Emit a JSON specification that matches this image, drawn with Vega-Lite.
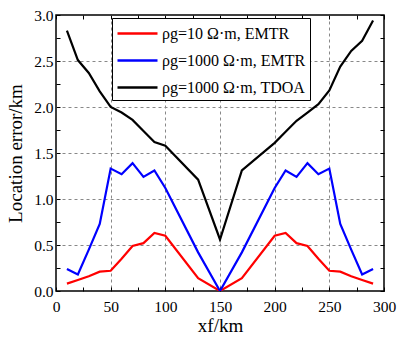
{
  "$schema": "https://vega.github.io/schema/vega-lite/v6.json",
  "autosize": {"type": "none"},
  "padding": {"left": 56, "top": 15, "right": 16, "bottom": 49},
  "width": 328,
  "height": 276,
  "config": {
    "view": {"stroke": "black", "strokeWidth": 1.5},
    "font": "Times New Roman",
    "legend": {"labelFont": "Times New Roman", "labelFontSize": 16, "labelColor": "black"},
    "axis": {
      "domain": false,
      "labelFont": "Times New Roman",
      "labelFontSize": 15.5,
      "labelColor": "black",
      "titleFont": "Times New Roman",
      "titleFontSize": 19,
      "titleFontWeight": "normal",
      "titleColor": "black",
      "tickColor": "black",
      "tickWidth": 1,
      "gridDash": [3, 3],
      "gridWidth": 1,
      "labelOverlap": false,
      "labelFlush": false
    }
  },
  "data": {
    "values": [
      {"x": 10, "y": 0.08, "s": "ρg=10 Ω·m, EMTR"},
      {"x": 20, "y": 0.12, "s": "ρg=10 Ω·m, EMTR"},
      {"x": 30, "y": 0.16, "s": "ρg=10 Ω·m, EMTR"},
      {"x": 40, "y": 0.21, "s": "ρg=10 Ω·m, EMTR"},
      {"x": 50, "y": 0.22, "s": "ρg=10 Ω·m, EMTR"},
      {"x": 60, "y": 0.35, "s": "ρg=10 Ω·m, EMTR"},
      {"x": 70, "y": 0.49, "s": "ρg=10 Ω·m, EMTR"},
      {"x": 80, "y": 0.52, "s": "ρg=10 Ω·m, EMTR"},
      {"x": 90, "y": 0.63, "s": "ρg=10 Ω·m, EMTR"},
      {"x": 100, "y": 0.6, "s": "ρg=10 Ω·m, EMTR"},
      {"x": 130, "y": 0.14, "s": "ρg=10 Ω·m, EMTR"},
      {"x": 150, "y": 0.0, "s": "ρg=10 Ω·m, EMTR"},
      {"x": 170, "y": 0.14, "s": "ρg=10 Ω·m, EMTR"},
      {"x": 200, "y": 0.6, "s": "ρg=10 Ω·m, EMTR"},
      {"x": 210, "y": 0.63, "s": "ρg=10 Ω·m, EMTR"},
      {"x": 220, "y": 0.52, "s": "ρg=10 Ω·m, EMTR"},
      {"x": 230, "y": 0.49, "s": "ρg=10 Ω·m, EMTR"},
      {"x": 240, "y": 0.35, "s": "ρg=10 Ω·m, EMTR"},
      {"x": 250, "y": 0.22, "s": "ρg=10 Ω·m, EMTR"},
      {"x": 260, "y": 0.21, "s": "ρg=10 Ω·m, EMTR"},
      {"x": 270, "y": 0.16, "s": "ρg=10 Ω·m, EMTR"},
      {"x": 280, "y": 0.12, "s": "ρg=10 Ω·m, EMTR"},
      {"x": 290, "y": 0.08, "s": "ρg=10 Ω·m, EMTR"},
      {"x": 10, "y": 0.24, "s": "ρg=1000 Ω·m, EMTR"},
      {"x": 20, "y": 0.18, "s": "ρg=1000 Ω·m, EMTR"},
      {"x": 30, "y": 0.45, "s": "ρg=1000 Ω·m, EMTR"},
      {"x": 40, "y": 0.73, "s": "ρg=1000 Ω·m, EMTR"},
      {"x": 50, "y": 1.33, "s": "ρg=1000 Ω·m, EMTR"},
      {"x": 60, "y": 1.27, "s": "ρg=1000 Ω·m, EMTR"},
      {"x": 70, "y": 1.39, "s": "ρg=1000 Ω·m, EMTR"},
      {"x": 80, "y": 1.24, "s": "ρg=1000 Ω·m, EMTR"},
      {"x": 90, "y": 1.31, "s": "ρg=1000 Ω·m, EMTR"},
      {"x": 100, "y": 1.12, "s": "ρg=1000 Ω·m, EMTR"},
      {"x": 130, "y": 0.42, "s": "ρg=1000 Ω·m, EMTR"},
      {"x": 150, "y": 0.0, "s": "ρg=1000 Ω·m, EMTR"},
      {"x": 170, "y": 0.42, "s": "ρg=1000 Ω·m, EMTR"},
      {"x": 200, "y": 1.12, "s": "ρg=1000 Ω·m, EMTR"},
      {"x": 210, "y": 1.31, "s": "ρg=1000 Ω·m, EMTR"},
      {"x": 220, "y": 1.24, "s": "ρg=1000 Ω·m, EMTR"},
      {"x": 230, "y": 1.39, "s": "ρg=1000 Ω·m, EMTR"},
      {"x": 240, "y": 1.27, "s": "ρg=1000 Ω·m, EMTR"},
      {"x": 250, "y": 1.33, "s": "ρg=1000 Ω·m, EMTR"},
      {"x": 260, "y": 0.73, "s": "ρg=1000 Ω·m, EMTR"},
      {"x": 270, "y": 0.45, "s": "ρg=1000 Ω·m, EMTR"},
      {"x": 280, "y": 0.18, "s": "ρg=1000 Ω·m, EMTR"},
      {"x": 290, "y": 0.24, "s": "ρg=1000 Ω·m, EMTR"},
      {"x": 10, "y": 2.83, "s": "ρg=1000 Ω·m, TDOA"},
      {"x": 20, "y": 2.51, "s": "ρg=1000 Ω·m, TDOA"},
      {"x": 30, "y": 2.37, "s": "ρg=1000 Ω·m, TDOA"},
      {"x": 40, "y": 2.17, "s": "ρg=1000 Ω·m, TDOA"},
      {"x": 50, "y": 2.0, "s": "ρg=1000 Ω·m, TDOA"},
      {"x": 60, "y": 1.94, "s": "ρg=1000 Ω·m, TDOA"},
      {"x": 70, "y": 1.86, "s": "ρg=1000 Ω·m, TDOA"},
      {"x": 80, "y": 1.74, "s": "ρg=1000 Ω·m, TDOA"},
      {"x": 90, "y": 1.62, "s": "ρg=1000 Ω·m, TDOA"},
      {"x": 100, "y": 1.58, "s": "ρg=1000 Ω·m, TDOA"},
      {"x": 130, "y": 1.21, "s": "ρg=1000 Ω·m, TDOA"},
      {"x": 150, "y": 0.56, "s": "ρg=1000 Ω·m, TDOA"},
      {"x": 170, "y": 1.31, "s": "ρg=1000 Ω·m, TDOA"},
      {"x": 200, "y": 1.61, "s": "ρg=1000 Ω·m, TDOA"},
      {"x": 210, "y": 1.73, "s": "ρg=1000 Ω·m, TDOA"},
      {"x": 220, "y": 1.85, "s": "ρg=1000 Ω·m, TDOA"},
      {"x": 230, "y": 1.94, "s": "ρg=1000 Ω·m, TDOA"},
      {"x": 240, "y": 2.03, "s": "ρg=1000 Ω·m, TDOA"},
      {"x": 250, "y": 2.18, "s": "ρg=1000 Ω·m, TDOA"},
      {"x": 260, "y": 2.44, "s": "ρg=1000 Ω·m, TDOA"},
      {"x": 270, "y": 2.61, "s": "ρg=1000 Ω·m, TDOA"},
      {"x": 280, "y": 2.72, "s": "ρg=1000 Ω·m, TDOA"},
      {"x": 290, "y": 2.94, "s": "ρg=1000 Ω·m, TDOA"}
    ]
  },
  "resolve": {"axis": {"x": "independent", "y": "independent"}},
  "layer": [
    {
      "mark": {"type": "line", "strokeWidth": 2.2, "clip": true},
      "encoding": {
        "x": {
          "field": "x", "type": "quantitative",
          "scale": {"domain": [0, 300], "nice": false, "zero": false},
          "axis": {
            "orient": "bottom",
            "title": "xf/km",
            "values": [0, 25, 50, 75, 100, 125, 150, 175, 200, 225, 250, 275, 300],
            "labelExpr": "datum.value % 50 === 0 ? datum.label : ''",
            "gridColor": {"condition": {"test": "datum.value % 50 === 0 && datum.value > 0 && datum.value < 300", "value": "#888888"}, "value": "transparent"},
            "tickSize": -4,
            "labelPadding": 12,
            "titlePadding": 2
          }
        },
        "y": {
          "field": "y", "type": "quantitative",
          "scale": {"domain": [0, 3], "nice": false, "zero": false},
          "axis": {
            "orient": "left",
            "title": "Location error/km",
            "values": [0, 0.25, 0.5, 0.75, 1, 1.25, 1.5, 1.75, 2, 2.25, 2.5, 2.75, 3],
            "format": ".1f",
            "labelExpr": "datum.value % 0.5 === 0 ? datum.label : ''",
            "gridColor": {"condition": {"test": "datum.value % 0.5 === 0 && datum.value > 0 && datum.value < 3", "value": "#888888"}, "value": "transparent"},
            "tickSize": -4,
            "labelPadding": 7,
            "titlePadding": 8
          }
        },
        "color": {
          "field": "s", "type": "nominal",
          "scale": {
            "domain": ["ρg=10 Ω·m, EMTR", "ρg=1000 Ω·m, EMTR", "ρg=1000 Ω·m, TDOA"],
            "range": ["#ff0000", "#0000ff", "#000000"]
          },
          "legend": {
            "title": null,
            "orient": "none",
            "legendX": 56,
            "legendY": 3,
            "direction": "vertical",
            "strokeColor": "black",
            "fillColor": "white",
            "padding": 4,
            "rowPadding": 7,
            "symbolType": "M-1,0H3",
            "symbolSize": 400,
            "symbolStrokeWidth": 2.5,
            "labelFont": "Times New Roman",
            "labelFontSize": 16,
            "labelColor": "black",
            "labelOffset": 23,
            "labelLimit": 300
          }
        }
      }
    },
    {
      "mark": {"type": "line", "opacity": 0},
      "encoding": {
        "x": {
          "field": "x", "type": "quantitative",
          "axis": {
            "orient": "top",
            "title": null,
            "labels": false,
            "grid": false,
            "values": [0, 25, 50, 75, 100, 125, 150, 175, 200, 225, 250, 275, 300],
            "tickSize": -4
          }
        },
        "y": {
          "field": "y", "type": "quantitative",
          "axis": {
            "orient": "right",
            "title": null,
            "labels": false,
            "grid": false,
            "values": [0, 0.25, 0.5, 0.75, 1, 1.25, 1.5, 1.75, 2, 2.25, 2.5, 2.75, 3],
            "tickSize": -4
          }
        },
        "detail": {"field": "s", "type": "nominal"}
      }
    }
  ]
}
